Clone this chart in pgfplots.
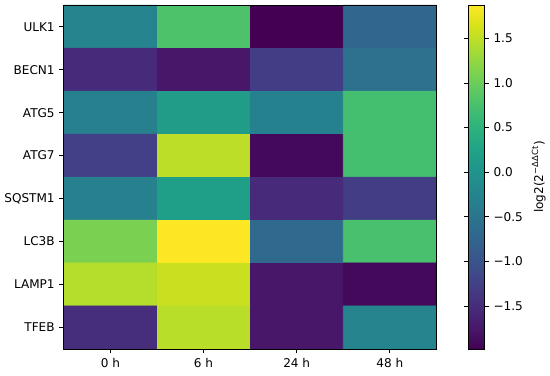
\documentclass[border=0pt]{standalone}
\usepackage{fontspec}
\setmainfont{DejaVu Sans}
\usepackage{pgfplots}
\pgfplotsset{compat=1.18}
\begin{document}
\begin{tikzpicture}
\begin{axis}[
  width=284pt, height=262pt, scale only axis,
  xmin=-0.5, xmax=3.5, ymin=-0.5, ymax=7.5,
  y dir=reverse,
  enlargelimits=false,
  axis on top,
  axis line style={line width=0.6pt},
  xtick={0,1,2,3}, xticklabels={0 h,6 h,24 h,48 h},
  ytick={0,...,7}, yticklabels={ULK1,BECN1,ATG5,ATG7,SQSTM1,LC3B,LAMP1,TFEB},
  tick align=outside, major tick length=3.5pt,
  tick style={black, line width=0.6pt},
  xtick pos=bottom, ytick pos=left,
  ticklabel style={font=\fontsize{9.2}{10}\selectfont},
  colormap/viridis,
  point meta min=-1.98, point meta max=1.87,
  colorbar,
  colorbar style={
    at={(parent axis.north east)}, anchor=north west, xshift=16pt,
    width=12pt,
    ytick={-1.5,-1,-0.5,0,0.5,1,1.5},
    yticklabels={−1.5,−1.0,−0.5,0.0,0.5,1.0,1.5},
    yticklabel style={font=\fontsize{9.2}{10}\selectfont},
    tick align=outside, major tick length=3.5pt,
    tick style={black, line width=0.6pt},
    axis line style={line width=0.6pt},
    axis on top,
    ylabel={log2(2\textsuperscript{−ΔΔCt})},
    ylabel style={font=\fontsize{9.2}{10}\selectfont},
  },
  clip=false,
]
\addplot[matrix plot*, point meta=explicit, mesh/cols=4] table[meta=c] {
x y c
0 0 -0.25
1 0 0.79
2 0 -1.98
3 0 -0.71
0 1 -1.52
1 1 -1.75
2 1 -1.29
3 1 -0.56
0 2 -0.32
1 2 0.14
2 2 -0.29
3 2 0.72
0 3 -1.25
1 3 1.49
2 3 -1.90
3 3 0.72
0 4 -0.32
1 4 0.18
2 4 -1.52
3 4 -1.29
0 5 1.10
1 5 1.87
2 5 -0.67
3 5 0.75
0 6 1.45
1 6 1.56
2 6 -1.75
3 6 -1.90
0 7 -1.48
1 7 1.47
2 7 -1.75
3 7 -0.25
};
\end{axis}
\path (0,266pt) (0,-20pt);
\end{tikzpicture}
\end{document}
